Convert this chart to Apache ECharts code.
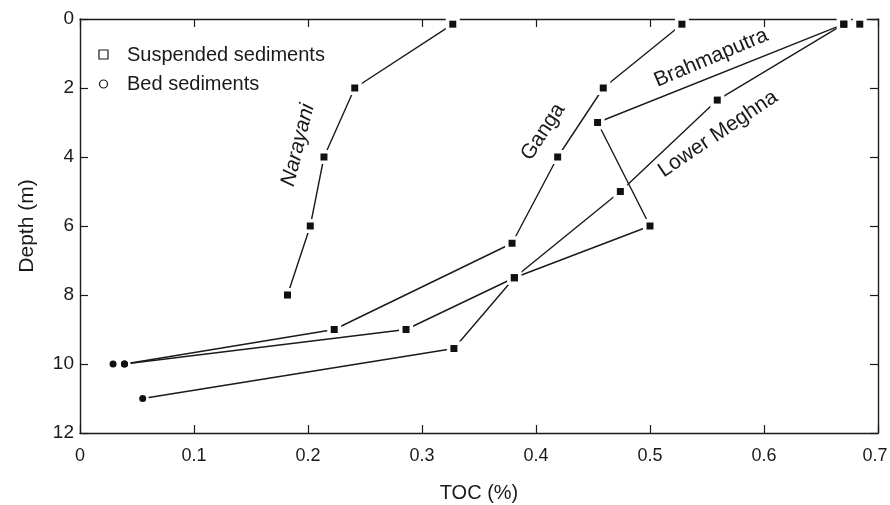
<!DOCTYPE html>
<html>
<head>
<meta charset="utf-8">
<script src="https://cdn.jsdelivr.net/npm/echarts@6/dist/echarts.min.js"></script>
<style>
html,body{margin:0;padding:0;background:#fff;}
#chart{width:890px;height:505px;}
</style>
</head>
<body>
<div id="chart"></div>
<script>
// ---- Data (TOC %, depth m) ----
var narayaniTOC   = [0.327, 0.241, 0.214, 0.202, 0.182];
var narayaniDepth = [0.15, 2.0, 4.0, 6.0, 8.0];

var gangaTOC   = [0.528, 0.459, 0.419, 0.379, 0.223];
var gangaDepth = [0.15, 2.0, 4.0, 6.5, 9.0];
var gangaBedTOC = 0.039, gangaBedDepth = 10;

var brahmaTOC   = [0.670, 0.454, 0.500, 0.381, 0.286];
var brahmaDepth = [0.15, 3.0, 6.0, 7.5, 9.0];
var brahmaBedTOC = 0.039, brahmaBedDepth = 10;

var meghnaTOC   = [0.670, 0.559, 0.474, 0.381, 0.328];
var meghnaDepth = [0.15, 2.35, 5.0, 7.5, 9.55];
var meghnaBedTOC = 0.055, meghnaBedDepth = 11;

var extraSuspTOC = [0.684], extraSuspDepth = [0.15];
var extraBedTOC = [0.029], extraBedDepth = [10];

var xTicks = [0, 0.1, 0.2, 0.3, 0.4, 0.5, 0.6, 0.7];
var yTicks = [0, 2, 4, 6, 8, 10, 12];

function pairs(xs, ys){ return xs.map(function(v,i){ return [v, ys[i]]; }); }

var narayani = pairs(narayaniTOC, narayaniDepth);
var ganga = pairs(gangaTOC, gangaDepth);
var brahma = pairs(brahmaTOC, brahmaDepth);
var meghna = pairs(meghnaTOC, meghnaDepth);
var gangaLine = ganga.concat([[gangaBedTOC, gangaBedDepth]]);
var brahmaLine = brahma.concat([[brahmaBedTOC, brahmaBedDepth]]);
var meghnaLine = meghna.concat([[meghnaBedTOC, meghnaBedDepth]]);

var suspended = narayani.concat(ganga, brahma, meghna, pairs(extraSuspTOC, extraSuspDepth));
var bed = [[gangaBedTOC, gangaBedDepth],[brahmaBedTOC, brahmaBedDepth],[meghnaBedTOC, meghnaBedDepth]]
          .concat(pairs(extraBedTOC, extraBedDepth));

var INK = '#1a1a1a';
var TICKFONT = '"Liberation Sans Narrow", "Liberation Sans", sans-serif';
var FONT = '"Liberation Sans", Arial, sans-serif';

function lineSeries(data){
  return {type:'line', data:data, symbol:'none', z:2,
    lineStyle:{color:INK, width:1.4}, animation:false, silent:true};
}

function axisLine(){ return {show:true, onZero:false, lineStyle:{color:INK, width:1.4}}; }
function axisTick(){ return {show:true, inside:true, length:8, lineStyle:{color:INK, width:1.2}}; }

var option = {
  backgroundColor:'#fff',
  animation:false,
  grid:{left:80, right:12, top:19, bottom:72, containLabel:false, outerBoundsMode:'none'},
  xAxis:[
    {type:'value', position:'bottom', min:0, max:0.7, interval:0.1,
      name:'TOC (%)', nameLocation:'middle', nameGap:50,
      nameTextStyle:{fontSize:20, color:INK, fontFamily:TICKFONT},
      axisLine:axisLine(), axisTick:axisTick(), splitLine:{show:false},
      axisLabel:{show:true, fontSize:18, color:INK, fontFamily:TICKFONT, margin:14,
        formatter:function(v){
          var r=Math.round(v*10)/10;
          if (xTicks.indexOf(r) < 0) return '';
          return r === xTicks[xTicks.length-1] ? '{last|' + r + '}' : String(r);
        },
        rich:{last:{fontSize:18, color:INK, fontFamily:TICKFONT, padding:[0,6,0,0]}}}},
    {type:'value', position:'top', min:0, max:0.7, interval:0.1,
      axisLine:axisLine(), axisTick:axisTick(), splitLine:{show:false}, axisLabel:{show:false}}
  ],
  yAxis:[
    {type:'value', inverse:true, min:0, max:12, interval:2, position:'left',
      name:'Depth (m)', nameLocation:'middle', nameGap:42, nameRotate:90,
      nameTextStyle:{fontSize:21, color:INK, fontFamily:FONT},
      axisLine:axisLine(), axisTick:axisTick(), splitLine:{show:false},
      axisLabel:{fontSize:19, color:INK, fontFamily:TICKFONT, margin:6,
        formatter:function(v){ return yTicks.indexOf(v)>=0 ? String(v) : ''; }}},
    {type:'value', inverse:true, min:0, max:12, interval:2, position:'right',
      axisLine:axisLine(), axisTick:axisTick(), splitLine:{show:false}, axisLabel:{show:false}}
  ],
  series:[
    lineSeries(narayani),
    lineSeries(gangaLine),
    lineSeries(brahmaLine),
    lineSeries(meghnaLine),
    // white halos around markers (gaps in lines)
    {type:'scatter', data:suspended, symbol:'rect', symbolSize:14, z:3,
      itemStyle:{color:'#fff', opacity:1}, silent:true},
    {type:'scatter', data:bed, symbol:'circle', symbolSize:12, z:3,
      itemStyle:{color:'#fff', opacity:1}, silent:true},
    // markers
    {type:'scatter', data:suspended, symbol:'rect', symbolSize:7, z:4,
      itemStyle:{color:'#111', opacity:1}, silent:true},
    {type:'scatter', data:bed, symbol:'circle', symbolSize:7, z:4,
      itemStyle:{color:'#111', opacity:1}, silent:true}
  ],
  graphic:[
    {type:'rect', shape:{x:99, y:50, width:9, height:9}, style:{fill:'#fff', stroke:INK, lineWidth:1.2}, z:10},
    {type:'circle', shape:{cx:103.5, cy:84, r:4}, style:{fill:'#fff', stroke:INK, lineWidth:1.2}, z:10},
    {type:'text', x:127, y:55, style:{text:'Suspended sediments', font:'20px '+FONT, fill:INK, textVerticalAlign:'middle'}, z:10},
    {type:'text', x:127, y:84, style:{text:'Bed sediments', font:'20px '+FONT, fill:INK, textVerticalAlign:'middle'}, z:10},
    {type:'text', x:298, y:145, rotation:76*Math.PI/180,
      style:{text:'Narayani', font:'italic 21px '+FONT, fill:INK, textAlign:'center', textVerticalAlign:'middle'}, z:10},
    {type:'text', x:543, y:132, rotation:57*Math.PI/180,
      style:{text:'Ganga', font:'21px '+FONT, fill:INK, textAlign:'center', textVerticalAlign:'middle'}, z:10},
    {type:'text', x:711, y:58, rotation:23*Math.PI/180,
      style:{text:'Brahmaputra', font:'21px '+FONT, fill:INK, textAlign:'center', textVerticalAlign:'middle'}, z:10},
    {type:'text', x:718, y:134, rotation:34*Math.PI/180,
      style:{text:'Lower Meghna', font:'21px '+FONT, fill:INK, textAlign:'center', textVerticalAlign:'middle'}, z:10}
  ]
};

var chart = echarts.init(document.getElementById('chart'), null, {renderer:'canvas'});
chart.setOption(option);
</script>
</body>
</html>
